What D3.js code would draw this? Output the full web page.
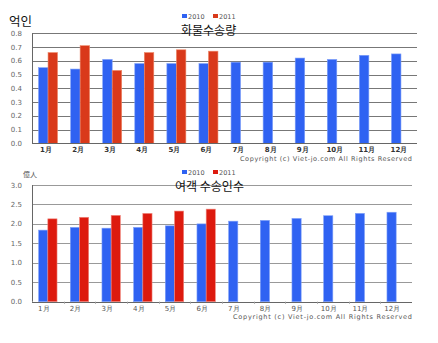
<!DOCTYPE html>
<html><head><meta charset="utf-8">
<script src="https://cdn.jsdelivr.net/npm/d3@7"></script>
<style>body{margin:0;background:#fff}svg{display:block}</style>
</head><body>
<script>
const months = ["1月","2月","3月","4月","5月","6月","7月","8月","9月","10月","11月","12月"];
const seriesNames = ["2010","2011"];
const cargo2010 = [0.55,0.54,0.61,0.58,0.58,0.58,0.59,0.59,0.62,0.61,0.64,0.65];
const cargo2011 = [0.66,0.71,0.53,0.66,0.68,0.67,null,null,null,null,null,null];
const pass2010 = [1.84,1.91,1.89,1.91,1.95,2.0,2.07,2.09,2.14,2.21,2.27,2.30];
const pass2011 = [2.13,2.17,2.22,2.27,2.33,2.38,null,null,null,null,null,null];
const cargoTicks = [0,0.1,0.2,0.3,0.4,0.5,0.6,0.7,0.8];
const passTicks = [0,0.5,1.0,1.5,2.0,2.5,3.0];

const svg = d3.select("body").append("svg").attr("width",438).attr("height",343);
const blue = "#2f62f2";

function chart(o){
  const g = svg.append("g");
  const x = d3.scaleBand().domain(months).range([o.x0,o.x1]);
  const y = d3.scaleLinear().domain([0,o.max]).range([o.y1,o.y0]);
  const inner = d3.scaleBand().domain(seriesNames).range([x.bandwidth()/2 - o.bw, x.bandwidth()/2 + o.bw]);
  g.selectAll(".grid").data(o.ticks).join("line")
    .attr("x1",o.x0).attr("x2",o.x1).attr("y1",d=>Math.round(y(d))+0.5).attr("y2",d=>Math.round(y(d))+0.5)
    .attr("stroke",o.grid).attr("stroke-width",1);
  g.selectAll(".yl").data(o.ticks).join("text")
    .attr("x",o.x0-10).attr("y",d=>y(d)+2.5).attr("text-anchor","end")
    .attr("font-family","DejaVu Sans").attr("font-size",7).attr("fill","#666")
    .text(d=>d.toFixed(1));
  const data = months.map((m,i)=>({m, v:[o.s1[i],o.s2[i]]}));
  const grp = g.selectAll(".grp").data(data).join("g").attr("transform",d=>`translate(${x(d.m)},0)`);
  grp.selectAll("rect").data(d=>d.v.map((v,j)=>({k:seriesNames[j],v})).filter(e=>e.v!=null)).join("rect")
    .attr("x",e=>inner(e.k)).attr("width",inner.bandwidth())
    .attr("y",e=>y(e.v)).attr("height",e=>y(0)-y(e.v))
    .attr("fill",e=>e.k==="2010"?blue:o.red)
    .attr("stroke",e=>e.k==="2010"?"#7fa0f8":o.redEdge).attr("stroke-width",0.6);
  g.append("line").attr("x1",o.x0+0.5).attr("x2",o.x0+0.5).attr("y1",o.y0).attr("y2",o.y1).attr("stroke","#666");
  g.append("line").attr("x1",o.x0).attr("x2",o.x1).attr("y1",Math.round(o.y1)+0.5).attr("y2",Math.round(o.y1)+0.5).attr("stroke","#666");
  if(o.xticks){
    g.selectAll(".xt").data(months.slice(1)).join("line")
      .attr("x1",d=>Math.round(x(d))+0.5).attr("x2",d=>Math.round(x(d))+0.5)
      .attr("y1",o.y1).attr("y2",o.y1+2).attr("stroke","#999");
  }
  g.selectAll(".xl").data(months).join("text")
    .attr("x",d=>x(d)+x.bandwidth()/2 - o.lab).attr("y",o.y1+9).attr("text-anchor","middle")
    .attr("font-family","DejaVu Sans").attr("font-size",7).attr("font-weight",o.bold?"bold":"normal")
    .attr("fill",o.bold?"#333":"#555").text(d=>d);
  const lg = g.append("g").attr("transform",`translate(182,${o.legY})`);
  seriesNames.forEach((s,i)=>{
    lg.append("rect").attr("x",i*31).attr("y",-4).attr("width",5).attr("height",4).attr("fill",i?o.red:blue);
    lg.append("text").attr("x",i*31+6).attr("y",0.5).attr("font-family","DejaVu Sans").attr("font-size",6.5).attr("fill","#555").text(s);
  });
  g.append("text").attr("x",o.titleX).attr("y",o.titleY).attr("font-family","Noto Sans CJK KR").attr("font-size",12).attr("fill","#111").text(o.title);
  g.append("text").attr("x",o.unitX).attr("y",o.unitY).attr("font-family","Noto Sans CJK KR").attr("font-size",o.unitSize).attr("fill",o.unitFill).text(o.unit);
  g.append("text").attr("x",o.copyX).attr("y",o.copyY)
    .attr("font-family","DejaVu Sans").attr("font-size",6.5).attr("fill","#555")
    .attr("textLength",o.copyW).attr("lengthAdjust","spacing")
    .text("Copyright (c) Viet-jo.com All Rights Reserved");
}

chart({x0:32,x1:417,y0:33.3,y1:143.3,max:0.8,ticks:cargoTicks,s1:cargo2010,s2:cargo2011,
  bw:9.5,red:"#d9391a",redEdge:"#ee8a6a",grid:"#777",bold:true,lab:2,xticks:false,
  legY:18,title:"화물수송량",titleX:181,titleY:35,unit:"억인",unitX:9,unitY:26,unitSize:12.5,unitFill:"#111",
  copyX:240,copyW:172,copyY:161});
chart({x0:32,x1:412,y0:185,y1:301.7,max:3.0,ticks:passTicks,s1:pass2010,s2:pass2011,
  bw:9.2,red:"#dd1a0e",redEdge:"#f08a80",grid:"#999",bold:false,lab:4,xticks:true,
  legY:174,title:"여객 수송인수",titleX:175,titleY:191,unit:"億人",unitX:23,unitY:177,unitSize:7,unitFill:"#555",
  copyX:233,copyW:179,copyY:319});
</script>
</body></html>
